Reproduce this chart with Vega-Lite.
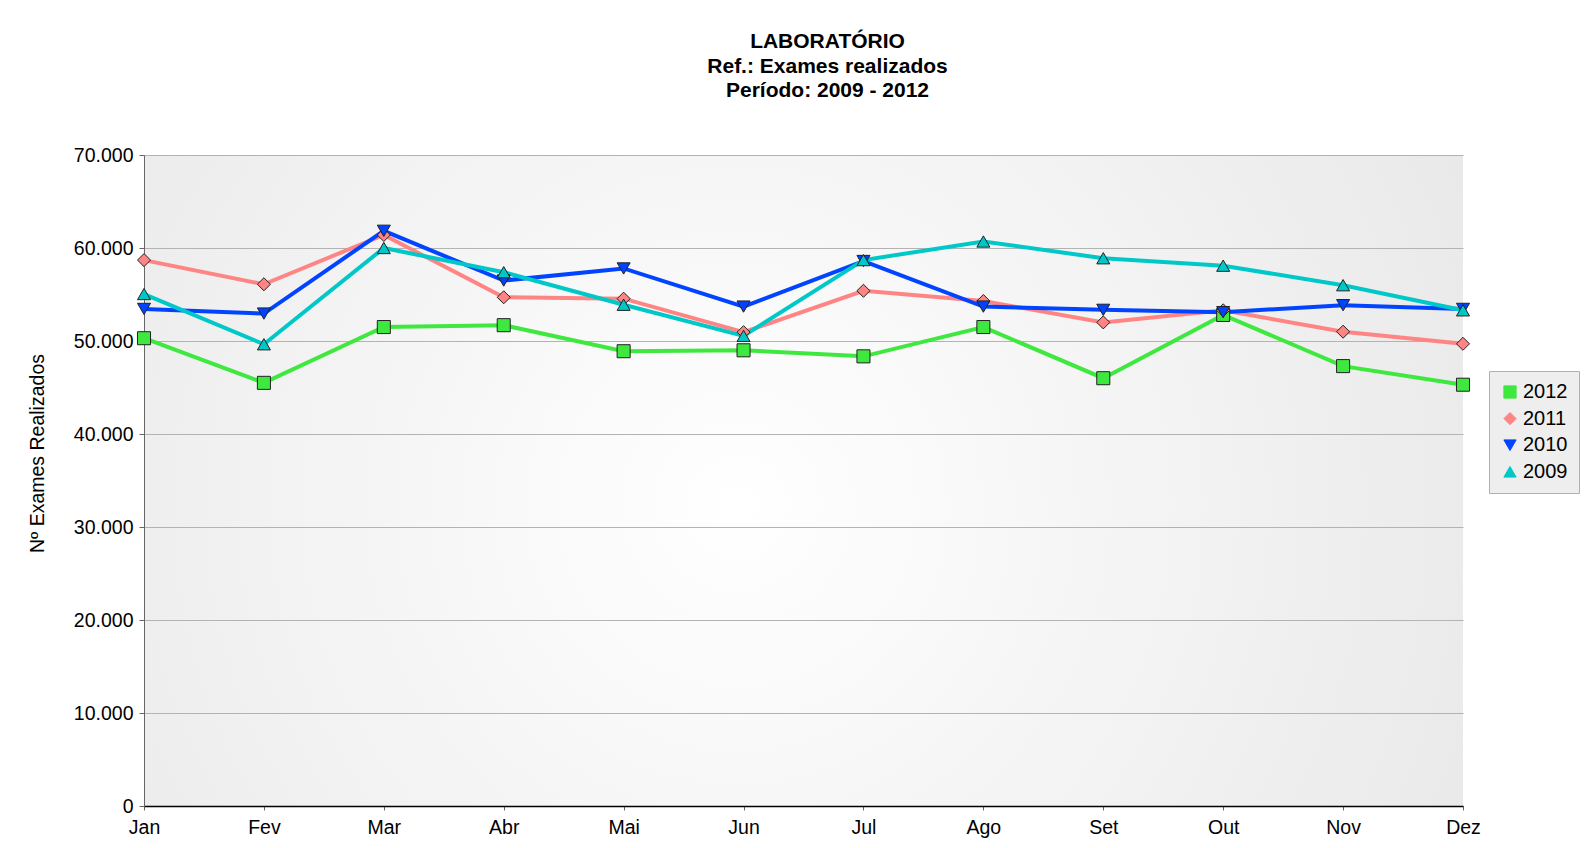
{
  "$schema": "https://vega.github.io/schema/vega-lite/v6.json",
  "autosize": {"type": "none"},
  "width": 1319,
  "height": 651,
  "padding": {"left": 144, "top": 155, "right": 127, "bottom": 42},
  "background": "#ffffff",
  "config": {
    "font": "Liberation Sans",
    "view": {
      "stroke": null,
      "fill": {"gradient": "radial", "x1": 0.45, "y1": 0.52, "r1": 0, "x2": 0.45, "y2": 0.52, "r2": 0.72,
        "stops": [{"offset": 0, "color": "#ffffff"}, {"offset": 1, "color": "#e5e5e5"}]}
    },
    "legend": {
      "title": null, "orient": "none", "legendX": 1345, "legendY": 216,
      "symbolStrokeColor": "#222222", "symbolStrokeWidth": 1, "symbolSize": 150, "symbolOpacity": 1,
      "labelFontSize": 20, "labelColor": "#000000", "labelOffset": 3,
      "padding": 11, "rowPadding": 6.6,
      "fillColor": "#eeeeee", "strokeColor": "#b0b0b0"
    }
  },
  "title": {
    "text": ["LABORATÓRIO", "Ref.: Exames realizados", "Período: 2009 - 2012"],
    "font": "Liberation Sans",
    "fontSize": 21,
    "fontWeight": "bold",
    "color": "#000000",
    "anchor": "middle",
    "frame": "group",
    "dx": 24,
    "baseline": "bottom",
    "lineHeight": 24.5,
    "offset": 23
  },
  "data": {
    "values": [
      {"ano": "2012", "mes": "Jan", "exames": 50300},
      {"ano": "2012", "mes": "Fev", "exames": 45500},
      {"ano": "2012", "mes": "Mar", "exames": 51500},
      {"ano": "2012", "mes": "Abr", "exames": 51700},
      {"ano": "2012", "mes": "Mai", "exames": 48900},
      {"ano": "2012", "mes": "Jun", "exames": 49000},
      {"ano": "2012", "mes": "Jul", "exames": 48350},
      {"ano": "2012", "mes": "Ago", "exames": 51500},
      {"ano": "2012", "mes": "Set", "exames": 46000},
      {"ano": "2012", "mes": "Out", "exames": 52800},
      {"ano": "2012", "mes": "Nov", "exames": 47300},
      {"ano": "2012", "mes": "Dez", "exames": 45300},
      {"ano": "2011", "mes": "Jan", "exames": 58700},
      {"ano": "2011", "mes": "Fev", "exames": 56100},
      {"ano": "2011", "mes": "Mar", "exames": 61400},
      {"ano": "2011", "mes": "Abr", "exames": 54700},
      {"ano": "2011", "mes": "Mai", "exames": 54550},
      {"ano": "2011", "mes": "Jun", "exames": 50950},
      {"ano": "2011", "mes": "Jul", "exames": 55400},
      {"ano": "2011", "mes": "Ago", "exames": 54300},
      {"ano": "2011", "mes": "Set", "exames": 52000},
      {"ano": "2011", "mes": "Out", "exames": 53300},
      {"ano": "2011", "mes": "Nov", "exames": 51000},
      {"ano": "2011", "mes": "Dez", "exames": 49700},
      {"ano": "2010", "mes": "Jan", "exames": 53450},
      {"ano": "2010", "mes": "Fev", "exames": 52950},
      {"ano": "2010", "mes": "Mar", "exames": 61850},
      {"ano": "2010", "mes": "Abr", "exames": 56500},
      {"ano": "2010", "mes": "Mai", "exames": 57800},
      {"ano": "2010", "mes": "Jun", "exames": 53700},
      {"ano": "2010", "mes": "Jul", "exames": 58600},
      {"ano": "2010", "mes": "Ago", "exames": 53700},
      {"ano": "2010", "mes": "Set", "exames": 53350},
      {"ano": "2010", "mes": "Out", "exames": 53100},
      {"ano": "2010", "mes": "Nov", "exames": 53850},
      {"ano": "2010", "mes": "Dez", "exames": 53450},
      {"ano": "2009", "mes": "Jan", "exames": 55050},
      {"ano": "2009", "mes": "Fev", "exames": 49650},
      {"ano": "2009", "mes": "Mar", "exames": 60000},
      {"ano": "2009", "mes": "Abr", "exames": 57400},
      {"ano": "2009", "mes": "Mai", "exames": 53900},
      {"ano": "2009", "mes": "Jun", "exames": 50550},
      {"ano": "2009", "mes": "Jul", "exames": 58700},
      {"ano": "2009", "mes": "Ago", "exames": 60700},
      {"ano": "2009", "mes": "Set", "exames": 58900},
      {"ano": "2009", "mes": "Out", "exames": 58100},
      {"ano": "2009", "mes": "Nov", "exames": 56000},
      {"ano": "2009", "mes": "Dez", "exames": 53300}
    ]
  },
  "encoding": {
    "x": {
      "field": "mes", "type": "nominal",
      "sort": ["Jan", "Fev", "Mar", "Abr", "Mai", "Jun", "Jul", "Ago", "Set", "Out", "Nov", "Dez"],
      "scale": {"type": "point", "padding": 0},
      "axis": {
        "title": null, "labelAngle": 0, "labelFontSize": 19.5, "labelColor": "#000000",
        "labelPadding": 8, "tickSize": 4, "tickColor": "#666666", "domainColor": "#000000",
        "domainWidth": 1.5, "grid": false
      }
    },
    "y": {
      "field": "exames", "type": "quantitative",
      "scale": {"domain": [0, 70000], "nice": false, "zero": true},
      "axis": {
        "title": "Nº Exames Realizados",
        "titleFontSize": 19.5, "titleFontWeight": "normal", "titleColor": "#000000",
        "titleX": -107, "titleY": 298, "titleAngle": 270, "titleAlign": "center", "titleBaseline": "middle",
        "values": [0, 10000, 20000, 30000, 40000, 50000, 60000, 70000],
        "labelExpr": "replace(format(datum.value, ','), ',', '.')",
        "labelFontSize": 19.5, "labelColor": "#000000", "labelPadding": 6,
        "tickSize": 5, "tickColor": "#666666", "domainColor": "#666666",
        "grid": true, "gridColor": "#b3b3b3", "gridWidth": 1
      }
    },
    "color": {
      "field": "ano", "type": "nominal",
      "scale": {"domain": ["2012", "2011", "2010", "2009"], "range": ["#3fe83f", "#ff8585", "#0044ff", "#00c8c8"]},
      "legend": {
        "symbolStrokeColor": "#222222", "symbolStrokeWidth": 1,
        "encode": {"symbols": {"update": {"stroke": {"value": "#222222"}, "strokeWidth": {"value": 1}}}}
      }
    }
  },
  "layer": [
    {
      "mark": {"type": "line", "strokeWidth": 4}
    },
    {
      "mark": {"type": "point", "filled": true, "size": 170, "opacity": 1, "stroke": "#222222", "strokeWidth": 1},
      "encoding": {
        "shape": {
          "field": "ano", "type": "nominal",
          "scale": {"domain": ["2012", "2011", "2010", "2009"], "range": ["square", "diamond", "triangle-down", "triangle-up"]},
          "legend": {
            "symbolStrokeColor": "#222222", "symbolStrokeWidth": 1,
            "encode": {"symbols": {"update": {"stroke": {"value": "#222222"}, "strokeWidth": {"value": 1}}}}
          }
        }
      }
    }
  ]
}
